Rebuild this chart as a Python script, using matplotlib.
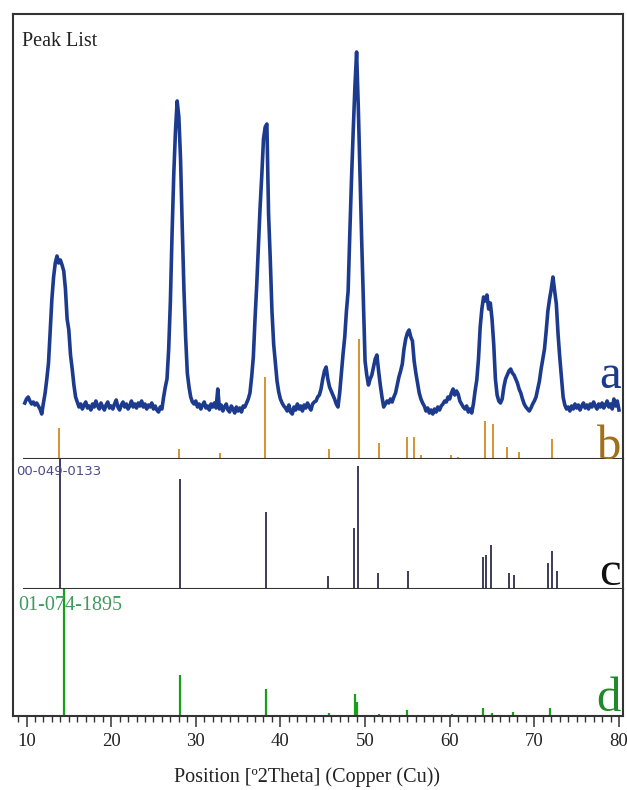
import numpy as np
import matplotlib
matplotlib.use("Agg")
import matplotlib.pyplot as plt
from matplotlib.ticker import MultipleLocator

plt.rcParams['font.family'] = ['Liberation Serif', 'DejaVu Serif']

# ---- measured pattern (a): counts on a 0.2 deg 2-theta step, starting at 9.8 deg ----
scan_start = 9.8
scan_step = 0.2
counts = [
    56,                                                   # 9.8
    60, 62, 58, 55, 57, 54, 56, 53, 50, 45,               # 10.0 - 11.8
    56, 66, 80, 96, 129, 160, 182, 196, 203, 196,         # 12.0 - 13.8
    199, 194, 188, 170, 140, 129, 104, 90, 74, 62,        # 14.0 - 15.8
    57, 52, 55, 50, 54, 57, 51, 53, 49, 55,               # 16.0 - 17.8
    52, 58, 53, 50, 56, 52, 49, 54, 57, 51,               # 18.0 - 19.8
    53, 50, 55, 59, 52, 49, 54, 57, 52, 55,               # 20.0 - 21.8
    50, 53, 58, 52, 55, 51, 56, 53, 58, 52,               # 22.0 - 23.8
    55, 50, 54, 52, 56, 50, 53, 49, 47, 52,               # 24.0 - 25.8
    50, 62, 72, 80, 110, 158, 226, 285, 328, 358,         # 26.0 - 27.8
    342, 300, 232, 170, 122, 86, 72, 62, 57, 55,          # 28.0 - 29.8
    58, 52, 55, 50, 54, 57, 51, 53, 49, 55,               # 30.0 - 31.8
    52, 56, 51, 70, 50, 54, 48, 52, 55, 49,               # 32.0 - 33.8
    47, 53, 50, 46, 52, 48, 51, 47, 53, 52,               # 34.0 - 35.8
    56, 60, 66, 82, 102, 140, 174, 212, 252, 284,         # 36.0 - 37.8
    320, 332, 335, 245, 200, 148, 115, 96, 78, 67,        # 38.0 - 39.8
    60, 56, 53, 51, 48, 54, 47, 45, 52, 49,               # 40.0 - 41.8
    55, 50, 53, 48, 54, 51, 56, 52, 49, 55,               # 42.0 - 43.8
    57, 58, 62, 64, 70, 80, 88, 92, 80, 72,               # 44.0 - 45.8
    68, 64, 60, 55, 52, 66, 86, 105, 122, 148,            # 46.0 - 47.8
    168, 226, 280, 328, 372, 407, 352, 286, 219, 160,     # 48.0 - 49.8
    98, 84, 74, 80, 84, 92, 100, 104, 88, 74,             # 50.0 - 51.8
    62, 52, 55, 58, 56, 60, 57, 62, 66, 74,               # 52.0 - 53.8
    82, 88, 95, 110, 120, 126, 129, 122, 118, 98,         # 54.0 - 55.8
    86, 76, 66, 60, 56, 53, 48, 51, 46, 49,               # 56.0 - 57.8
    45, 50, 47, 52, 49, 53, 55, 58, 57, 62,               # 58.0 - 59.8
    60, 66, 70, 64, 68, 65, 58, 55, 52, 50,               # 60.0 - 61.8
    53, 47, 50, 46, 55, 68, 79, 100, 132, 150,            # 62.0 - 63.8
    162, 158, 164, 150, 156, 140, 115, 80, 64, 58,        # 64.0 - 65.8
    56, 60, 72, 80, 84, 88, 90, 86, 84, 80,               # 66.0 - 67.8
    76, 70, 66, 60, 55, 52, 50, 48, 51, 55,               # 68.0 - 69.8
    58, 62, 70, 78, 90, 100, 110, 128, 148, 160,          # 70.0 - 71.8
    170, 182, 168, 155, 125, 102, 82, 62, 54, 50,         # 72.0 - 73.8
    52, 48, 53, 50, 55, 51, 54, 49, 53, 56,               # 74.0 - 75.8
    51, 54, 50, 55, 52, 57, 53, 50, 55, 52,               # 76.0 - 77.8
    56, 51, 54, 58, 52, 55, 50, 60, 53, 58,               # 78.0 - 79.8
    49,                                                   # 80.0
]
two_theta = np.round(scan_start + scan_step * np.arange(len(counts)), 2)

# ---- peak list (b): positions and relative intensities ----
b_pos = [13.88, 24.12, 28.02, 32.86, 38.21, 45.78, 49.32, 51.65, 54.99, 55.75,
         56.57, 59.45, 60.12, 60.94, 64.17, 65.15, 66.81, 68.22, 72.09]
b_rel = [26, 1, 8, 5, 68, 8, 100, 13, 18, 18,
         3, 1, 3, 2, 32, 29, 10, 6, 17]

# ---- reference pattern 00-049-0133 (c) ----
c_code = "00-049-0133"
c_pos = [13.96, 28.14, 38.30, 45.59, 48.69, 49.20, 51.49, 55.11,
         63.97, 64.29, 64.84, 66.97, 67.60, 71.58, 72.05, 72.71]
c_rel = [100, 85, 59, 10, 47, 95, 12, 14,
         25, 26, 34, 12, 11, 20, 29, 14]

# ---- reference pattern 01-074-1895 (d) ----
d_code = "01-074-1895"
d_pos = [14.47, 28.14, 38.26, 45.78, 48.81, 49.08, 51.68, 54.99,
         60.27, 63.90, 64.96, 67.51, 71.85]
d_rel = [100, 32, 21, 2, 17, 11, 1.5, 4.5,
         1.5, 6, 2.4, 3.5, 6]

x_ticks = [10, 20, 30, 40, 50, 60, 70, 80]
x_label = "Position [º2Theta] (Copper (Cu))"

# ---- styling ----
W_PX, H_PX = 627, 790
frame_col = "#333333"
trace_col = "#1c3a8e"
b_col = "#d38b1e"
c_col = "#1b1b3e"
d_col = "#18a018"

fig = plt.figure(figsize=(W_PX / 100, H_PX / 100), dpi=100)

left_px, right_px = 13, 623
top_px, sep1_px, sep2_px, bot_px = 14, 459, 589, 716


def box(y_top, y_bot):
    return [left_px / W_PX, 1 - y_bot / H_PX,
            (right_px - left_px) / W_PX, (y_bot - y_top) / H_PX]


ax_a = fig.add_axes(box(top_px, sep1_px))
ax_c = fig.add_axes(box(sep1_px, sep2_px), sharex=ax_a)
ax_d = fig.add_axes(box(sep2_px, bot_px), sharex=ax_a)

x_lo = 10 - (26.5 - left_px) / 8.464
x_hi = 10 + (right_px - 26.5) / 8.464
ax_a.set_xlim(x_lo, x_hi)

# top panel: measured scan + peak list
b_scale = 1.2
ax_a.set_ylim(0, 445)
ax_a.plot(two_theta, counts, color=trace_col, lw=2.6, solid_joinstyle="round")
ax_a.vlines(b_pos, 0, np.array(b_rel) * b_scale, color=b_col, lw=1.3)

ax_c.set_ylim(0, 100)
ax_c.vlines(c_pos, 0, c_rel, color=c_col, lw=1.2)

ax_d.set_ylim(0, 100)
ax_d.vlines(d_pos, 0, d_rel, color=d_col, lw=1.6)

sep_start = (24 - left_px) / (right_px - left_px)
for ax in (ax_a, ax_c, ax_d):
    for s in ax.spines.values():
        s.set_color(frame_col)
        s.set_linewidth(1.5)
    ax.set_yticks([])

ax_a.spines["bottom"].set_visible(False)
ax_c.spines["top"].set_visible(False)
ax_c.spines["bottom"].set_visible(False)
ax_d.spines["top"].set_visible(False)
for ax in (ax_a, ax_c):
    ax.axhline(0, xmin=sep_start, xmax=1, color=frame_col, lw=1.5, clip_on=False)
    ax.tick_params(axis="x", which="both", bottom=False, labelbottom=False)

ax_d.xaxis.set_minor_locator(MultipleLocator(1))
ax_d.set_xticks(x_ticks)
ax_d.set_xticklabels([str(t) for t in x_ticks])
ax_d.tick_params(axis="x", which="major", direction="out", length=8, width=1.1,
                 color=frame_col, labelsize=13.5, pad=4, labelcolor="#222222")
ax_d.tick_params(axis="x", which="minor", direction="out", length=4.3, width=1.0,
                 color=frame_col)

# texts
fig.text(22 / W_PX, 1 - 45.5 / H_PX, "Peak List", fontsize=14.5, color="#222222",
         va="baseline", ha="left")
fig.text(16.5 / W_PX, 1 - 475 / H_PX, c_code, fontsize=9.5, color="#4a4a8c",
         family="DejaVu Sans", va="baseline", ha="left")
fig.text(18 / W_PX, 1 - 610 / H_PX, d_code, fontsize=14.5, color="#3f9a5e",
         va="baseline", ha="left")

for letter, ybase, col in (("a", 388, trace_col), ("b", 459, "#a0701a"),
                           ("c", 585, "#111111"), ("d", 711, "#1f8a2a")):
    fig.text(621 / W_PX, 1 - ybase / H_PX, letter, fontsize=35, color=col,
             va="baseline", ha="right")

fig.text(307 / W_PX, 1 - 782 / H_PX, x_label, fontsize=14.5, color="#222222",
         va="baseline", ha="center")

fig.savefig("out.png", dpi=100)
